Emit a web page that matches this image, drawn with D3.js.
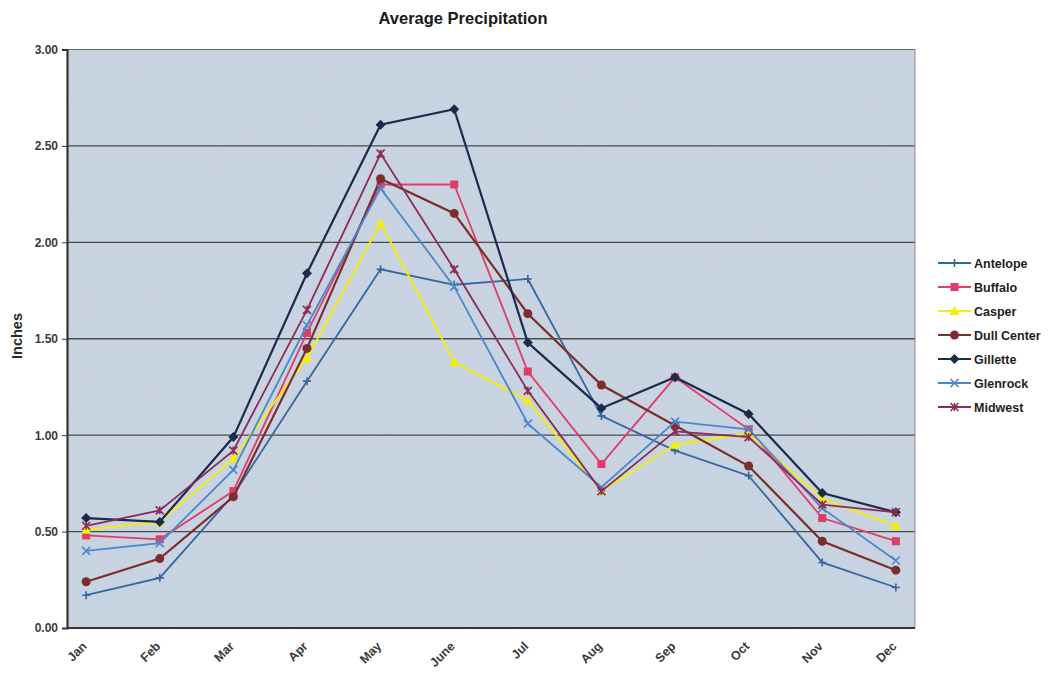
<!DOCTYPE html>
<html>
<head>
<meta charset="utf-8">
<script src="https://cdn.jsdelivr.net/npm/d3@7"></script>
<style>
  body { margin: 0; background: #fff; }
  svg { display: block; font-family: "Liberation Sans", Arial, sans-serif; }
</style>
</head>
<body>
<svg id="chart" width="1049" height="673"></svg>
<script>
// Monthly average precipitation (inches) by station
const months = ["Jan", "Feb", "Mar", "Apr", "May", "June", "Jul", "Aug", "Sep", "Oct", "Nov", "Dec"];
const antelope   = [0.17, 0.26, 0.69, 1.28, 1.86, 1.78, 1.81, 1.10, 0.92, 0.79, 0.34, 0.21];
const buffalo    = [0.48, 0.46, 0.71, 1.53, 2.30, 2.30, 1.33, 0.85, 1.30, 1.03, 0.57, 0.45];
const casper     = [0.51, 0.55, 0.88, 1.40, 2.10, 1.38, 1.18, 0.71, 0.95, 1.01, 0.67, 0.53];
const dullCenter = [0.24, 0.36, 0.68, 1.45, 2.33, 2.15, 1.63, 1.26, 1.05, 0.84, 0.45, 0.30];
const gillette   = [0.57, 0.55, 0.99, 1.84, 2.61, 2.69, 1.48, 1.14, 1.30, 1.11, 0.70, 0.60];
const glenrock   = [0.40, 0.44, 0.82, 1.57, 2.28, 1.77, 1.06, 0.73, 1.07, 1.03, 0.62, 0.35];
const midwest    = [0.53, 0.61, 0.92, 1.65, 2.46, 1.86, 1.23, 0.71, 1.02, 0.99, 0.64, 0.60];
const yTicks = [0, 0.5, 1.0, 1.5, 2.0, 2.5, 3.0];

const series = [
  { name: "Antelope",    values: antelope,   color: "#35679f", symbol: "plus" },
  { name: "Buffalo",     values: buffalo,    color: "#e03c68", symbol: "square" },
  { name: "Casper",      values: casper,     color: "#f4f000", symbol: "triangle" },
  { name: "Dull Center", values: dullCenter, color: "#7a2f2c", symbol: "circle" },
  { name: "Gillette",    values: gillette,   color: "#1c2a4c", symbol: "diamond" },
  { name: "Glenrock",    values: glenrock,   color: "#4a88cc", symbol: "cross" },
  { name: "Midwest",     values: midwest,    color: "#8a2c58", symbol: "asterisk" }
];

const svg = d3.select("#chart");
const plot = { left: 67, right: 915, top: 49.5, bottom: 628 };

const x = d3.scalePoint().domain(months).range([plot.left, plot.right]).padding(0.26);
const y = d3.scaleLinear().domain([0, 3]).range([plot.bottom, plot.top]);

// speckled plot background
const defs = svg.append("defs");
const f = defs.append("filter").attr("id", "grain").attr("x", 0).attr("y", 0).attr("width", 1).attr("height", 1);
f.append("feTurbulence").attr("type", "fractalNoise").attr("baseFrequency", 0.85).attr("numOctaves", 2).attr("seed", 3).attr("result", "noise");
f.append("feColorMatrix").attr("in", "noise").attr("type", "matrix")
  .attr("values", "0 0 0 0 0.6  0 0 0 0 0.65  0 0 0 0 0.74  0 0 0 2.2 -0.95").attr("result", "tint");
f.append("feComposite").attr("in", "tint").attr("in2", "SourceGraphic").attr("operator", "atop");

svg.append("rect")
  .attr("x", plot.left).attr("y", plot.top)
  .attr("width", plot.right - plot.left).attr("height", plot.bottom - plot.top)
  .attr("fill", "#c8d3e2")
  .attr("filter", "url(#grain)");

// horizontal gridlines
svg.append("g").selectAll("line")
  .data(yTicks.filter(d => d > 0 && d < 3))
  .join("line")
  .attr("x1", plot.left).attr("x2", plot.right)
  .attr("y1", d => y(d)).attr("y2", d => y(d))
  .attr("stroke", "#4a4a4a").attr("stroke-width", 1.3);

// plot frame: thin top/right, heavy left/bottom axes
svg.append("line").attr("x1", plot.left).attr("x2", plot.right).attr("y1", plot.top).attr("y2", plot.top)
  .attr("stroke", "#6a6a6a").attr("stroke-width", 1);
svg.append("line").attr("x1", plot.right).attr("x2", plot.right).attr("y1", plot.top).attr("y2", plot.bottom)
  .attr("stroke", "#8a8a8a").attr("stroke-width", 1);

// y axis
const yAxis = d3.axisLeft(y).tickValues(yTicks).tickFormat(d3.format(".2f")).tickSize(5).tickPadding(4);
const gy = svg.append("g").attr("transform", `translate(${plot.left},0)`).call(yAxis);
gy.select(".domain").attr("stroke", "#333").attr("stroke-width", 2.2);
gy.selectAll(".tick line").attr("stroke", "#333");
gy.selectAll(".tick text").attr("font-size", 12).attr("font-weight", "bold").attr("fill", "#3a3a3a");

// x axis
const xAxis = d3.axisBottom(x).tickSize(0).tickPadding(0);
const gx = svg.append("g").attr("transform", `translate(0,${plot.bottom})`).call(xAxis);
gx.select(".domain").attr("d", `M${plot.left},0H${plot.right}`).attr("stroke", "#333").attr("stroke-width", 2.2);
gx.selectAll(".tick text")
  .attr("font-size", 12.5).attr("font-weight", "bold").attr("fill", "#3a3a3a")
  .attr("text-anchor", "end")
  .attr("dy", 0)
  .attr("transform", "translate(1,19) rotate(-45)");

// titles
svg.append("text").attr("x", 463).attr("y", 24).attr("text-anchor", "middle")
  .attr("font-size", 16.5).attr("font-weight", "bold").attr("fill", "#1a1a1a")
  .text("Average Precipitation");
svg.append("text").attr("transform", "translate(22,336) rotate(-90)").attr("text-anchor", "middle")
  .attr("font-size", 14.5).attr("font-weight", "bold").attr("fill", "#2a2a2a")
  .text("Inches");

// marker drawing
function drawMarker(g, sym, color, size) {
  const s = size / 2;
  if (sym === "square") {
    g.append("rect").attr("x", -s).attr("y", -s).attr("width", size).attr("height", size).attr("fill", color);
  } else if (sym === "circle") {
    g.append("circle").attr("r", s + 0.5).attr("fill", color);
  } else if (sym === "diamond") {
    g.append("path").attr("d", `M0,${-s - 1}L${s + 1},0L0,${s + 1}L${-s - 1},0Z`).attr("fill", color);
  } else if (sym === "triangle") {
    g.append("path").attr("d", `M0,${-s - 1}L${s + 1},${s}L${-s - 1},${s}Z`).attr("fill", color);
  } else if (sym === "plus") {
    g.append("path").attr("d", `M${-s},0H${s}M0,${-s}V${s}`).attr("stroke", color).attr("stroke-width", 1.6);
  } else if (sym === "cross") {
    g.append("path").attr("d", `M${-s},${-s}L${s},${s}M${-s},${s}L${s},${-s}`).attr("stroke", color).attr("stroke-width", 1.6);
  } else if (sym === "asterisk") {
    g.append("path").attr("d", `M${-s},${-s}L${s},${s}M${-s},${s}L${s},${-s}M0,${-s}V${s}`).attr("stroke", color).attr("stroke-width", 1.6);
  }
}

const line = d3.line().x((d, i) => x(months[i])).y(d => y(d));
const lines = svg.append("g");
series.forEach(s => {
  const g = lines.append("g");
  g.append("path").datum(s.values).attr("d", line)
    .attr("fill", "none").attr("stroke", s.color)
    .attr("stroke-width", s.symbol === "diamond" || s.symbol === "circle" ? 2.2 : 1.8);
  g.selectAll("g.m").data(s.values).join("g").attr("class", "m")
    .attr("transform", (d, i) => `translate(${x(months[i])},${y(d)})`)
    .each(function() { drawMarker(d3.select(this), s.symbol, s.color, 8); });
});

// legend
const legend = svg.append("g").attr("transform", "translate(938,263)");
series.forEach((s, i) => {
  const row = legend.append("g").attr("transform", `translate(0,${i * 24})`);
  row.append("line").attr("x1", 0).attr("x2", 33).attr("y1", 0).attr("y2", 0)
    .attr("stroke", s.color).attr("stroke-width", 2);
  const m = row.append("g").attr("transform", "translate(16.5,0)");
  drawMarker(m, s.symbol, s.color, 8);
  row.append("text").attr("x", 36).attr("y", 4.5)
    .attr("font-size", 12.5).attr("font-weight", "bold").attr("fill", "#1e1e1e")
    .text(s.name);
});
</script>
</body>
</html>
